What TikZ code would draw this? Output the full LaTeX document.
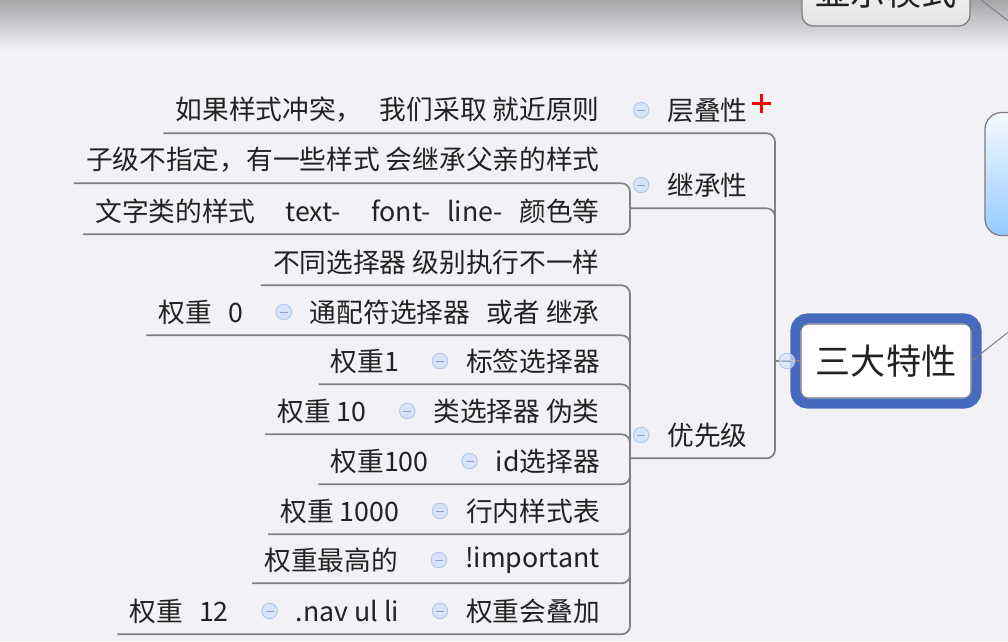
\documentclass[tikz,border=0pt]{standalone}
\usepackage{fontspec}
\setmainfont{Noto Sans CJK SC}
\usepackage{tikz}
\usetikzlibrary{positioning,calc}
\usepackage{xcolor}
\definecolor{bgcol}{RGB}{242,242,246}
\definecolor{topgray}{RGB}{166,166,169}
\definecolor{linegray}{RGB}{128,128,132}
\definecolor{boxgray}{RGB}{125,125,128}
\definecolor{selblue}{RGB}{70,106,190}
\definecolor{foldfill}{RGB}{214,227,249}
\definecolor{folddraw}{RGB}{176,198,236}
\definecolor{folddash}{RGB}{140,160,200}
\definecolor{textcol}{RGB}{34,34,34}
\definecolor{rootblue}{RGB}{150,202,255}

\begin{document}
\begin{tikzpicture}[x=0.025cm, y=-0.025cm, node distance=0.44cm,
    topic/.style={font=\fontsize{19pt}{22pt}\selectfont, text=textcol, inner xsep=0pt, inner ysep=0pt, minimum height=1.15cm},
    fold/.style={circle, draw=folddraw, fill=foldfill, line width=0.6pt, minimum size=0.39cm, inner sep=0pt,
      path picture={\draw[folddash, line width=0.7pt] ($(path picture bounding box.center)+(-4,0)$) -- ($(path picture bounding box.center)+(4,0)$);}},
    conn/.style={draw=linegray, line width=1.2pt, rounded corners=6pt},
    thinconn/.style={draw=linegray, line width=0.7pt},
    mainbox/.style={font=\fontsize{25pt}{30pt}\selectfont, text=textcol, fill=white, draw=boxgray, line width=0.9pt, rounded corners=5pt, minimum width=4.25cm, minimum height=1.85cm},
    selframe/.style={draw=selblue, line width=0.25cm, rounded corners=9pt},
    rootbox/.style={draw=boxgray, line width=0.9pt, rounded corners=12pt, top color=white!90!rootblue, bottom color=rootblue, minimum width=11.15cm, minimum height=3.075cm},
    topbox/.style={font=\fontsize{25pt}{30pt}\selectfont, text=textcol, draw=boxgray, line width=0.9pt, rounded corners=8pt, top color=white, bottom color=gray!22, minimum width=4.2cm, minimum height=1.7cm}]
  \useasboundingbox (0,0) rectangle (1008,641);
  \clip (0,0) rectangle (1008,641);
  \fill[bgcol] (0,0) rectangle (1008,641);
  \shade[top color=topgray, bottom color=bgcol] (0,0) rectangle (1008,50);

  % neighbours of the central topic
  \node[rootbox] (root) at (1208,174) {};
  \node[topbox] (xs) at (886,-8) {显示模式};
  \draw[thinconn] (xs.east) -- (root);

  % central topic
  \node[mainbox] (sd) at (886,361) {三大特性};
  \draw[selframe] ($(sd.south west)+(-5,5)$) rectangle ($(sd.north east)+(5,-5)$);
  \draw[thinconn] (sd.east) -- (root);

  % first level
  \node[topic, anchor=west] (cd) at (667,110) {层叠性};
  \node[topic, anchor=west] (jc) at (667,185) {继承性};
  \node[topic, anchor=west] (yx) at (667,435) {优先级};
  \foreach \n in {cd,jc,yx}
    \node[fold, left=of \n] (\n-f) {};
  \draw[red, line width=2.3pt] (752,103.5) -- (771,103.5) (761.5,94) -- (761.5,113);

  % second level
  \node[topic, anchor=east] (cd1) at (600,110) {如果样式冲突，\hspace{0.65em}我们采取 就近原则};
  \node[topic, anchor=east] (jc1) at (600,160) {子级不指定，有一些样式 会继承父亲的样式};
  \node[topic, anchor=east] (jc2) at (600,211) {文字类的样式\hspace{0.9em} text-\hspace{0.9em} font-\hspace{0.4em} line-\hspace{0.4em} 颜色等};
  \node[topic, anchor=east] (yx1) at (600,262) {不同选择器 级别执行不一样};
  \node[topic, anchor=east] (yx2) at (600,312) {通配符选择器\hspace{0.4em} 或者 继承};
  \node[topic, anchor=east] (yx3) at (600,361) {标签选择器};
  \node[topic, anchor=east] (yx4) at (600,411) {类选择器 伪类};
  \node[topic, anchor=east] (yx5) at (600,461) {id选择器};
  \node[topic, anchor=east] (yx6) at (600,511) {行内样式表};
  \node[topic, anchor=east] (yx7) at (600,560) {!important};
  \node[topic, anchor=east] (yx8) at (600,611) {权重会叠加};
  \foreach \n in {yx2,yx3,yx4,yx5,yx6,yx7,yx8}
    \node[fold, left=of \n] (\n-f) {};

  % third level
  \node[topic, left=0.81cm of yx2-f] (yx2a) {权重\hspace{0.6em}0};
  \node[topic, left=0.81cm of yx3-f] (yx3a) {权重1};
  \node[topic, left=0.81cm of yx4-f] (yx4a) {权重 10};
  \node[topic, left=0.81cm of yx5-f] (yx5a) {权重100};
  \node[topic, left=0.81cm of yx6-f] (yx6a) {权重 1000};
  \node[topic, left=0.81cm of yx7-f] (yx7a) {权重最高的};
  \node[topic, left=0.81cm of yx8-f] (yx8a) {.nav ul li};
  \node[fold, left=of yx8a] (yx8a-f) {};
  \node[topic, left=0.81cm of yx8a-f] (yx8b) {权重\hspace{0.6em}12};

  % connectors
  \coordinate (trunk) at (775,361);
  \coordinate (lv2) at (630,0);
  \draw[conn] (trunk) -- (sd.west);
  \draw[conn] (trunk) -- (trunk |- cd.south) -- ($(cd1.south west)+(-12,0)$);
  \draw[conn] (trunk) -- (trunk |- jc.south) -- (lv2 |- jc.south);
  \draw[conn] (trunk) -- (trunk |- yx.south) -- (lv2 |- yx.south);
  \draw[conn] (lv2 |- jc.south) -- (lv2 |- jc1.south) -- ($(jc1.south west)+(-12,0)$);
  \draw[conn] (lv2 |- jc.south) -- (lv2 |- jc2.south) -- ($(jc2.south west)+(-12,0)$);
  \foreach \n/\m in {yx1/yx1, yx2/yx2a, yx3/yx3a, yx4/yx4a, yx5/yx5a, yx6/yx6a, yx7/yx7a, yx8/yx8b}
    \draw[conn] (lv2 |- yx.south) -- (lv2 |- \n.south) -- ($(\m.south west)+(-12,0)$);
  \node[fold, fill opacity=0.7] (sd-f) at (787,361) {};
\end{tikzpicture}
\end{document}
